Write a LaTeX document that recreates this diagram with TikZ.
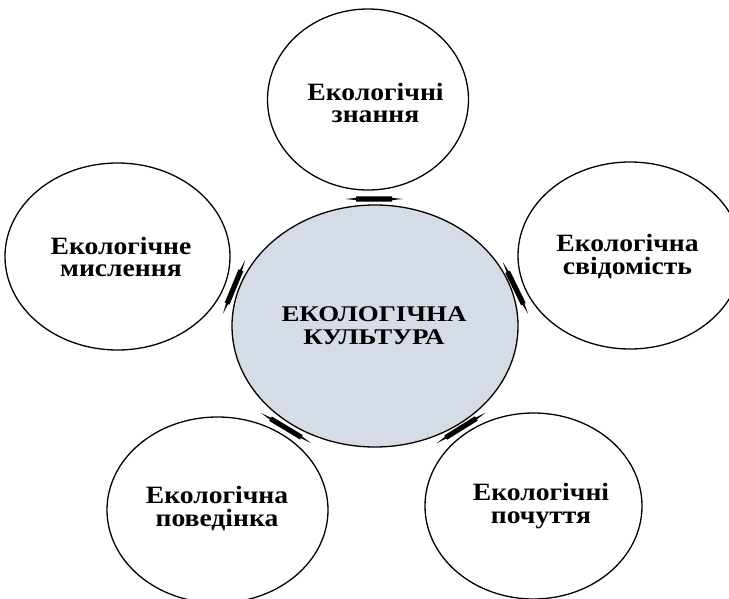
\documentclass[tikz,border=0pt]{standalone}
\usepackage{fontspec}
\setmainfont{Liberation Serif}
\usetikzlibrary{shapes.geometric}
\definecolor{centerfill}{HTML}{D6DCE5}
\tikzset{
  outer/.style={ellipse, draw=black, line width=1.3bp, inner sep=0pt},
  core/.style={ellipse, draw=black, line width=1.3bp, fill=centerfill, inner sep=0pt},
  lbl/.style={font=\bfseries\fontsize{25}{23}\selectfont\addfontfeature{FakeStretch=1.11}, align=center, inner sep=0pt},
  corelbl/.style={font=\bfseries\fontsize{22.5}{23}\selectfont\addfontfeature{FakeStretch=1.2}, align=center, inner sep=0pt},
  linkbar/.pic={\fill[black] (-29,0) -- (-18,-1.1) -- (-18,-2.6) -- (18,-2.6) -- (18,-1.1) -- (29,0)
      -- (18,1.1) -- (18,2.6) -- (-18,2.6) -- (-18,1.1) -- cycle;}
}
\begin{document}
\begin{tikzpicture}[x=1bp,y=-1bp]
\useasboundingbox (0,0) rectangle (729,599);
\clip (0,0) rectangle (729,599);
% circles
\node[outer, minimum width=201bp, minimum height=181bp] (zn) at (368,99.5) {};
\node[outer, minimum width=225bp, minimum height=187bp] (ms) at (117.5,256.5) {};
\node[outer, minimum width=224bp, minimum height=187bp] (sv) at (630,255.5) {};
\node[outer, minimum width=221bp, minimum height=186bp] (pv) at (217.5,510) {};
\node[outer, minimum width=217bp, minimum height=186bp] (pc) at (533.5,506) {};
\node[core, minimum width=286bp, minimum height=242bp] (ek) at (375,326) {};
% texts
\node[lbl] (tzn) at (375.5,103) {Екологічні\\знання};
\node[lbl] (tms) at (121,257) {Екологічне\\мислення};
\node[lbl] (tsv) at (627.5,256.5) {Екологічна\\свідомість};
\node[lbl] (tpv) at (217,508.5) {Екологічна\\поведінка};
\node[lbl] (tpc) at (541,506) {Екологічні\\почуття};
\node[corelbl] (tek) at (374,325.5) {ЕКОЛОГІЧНА\\КУЛЬТУРА};
% connectors
\coordinate (k1) at (374,199);
\coordinate (k2) at (515.5,288);
\coordinate (k3) at (461,428);
\coordinate (k4) at (286,428);
\coordinate (k5) at (234,287);
\pic[rotate=0] at (k1) {linkbar};
\pic[rotate=-64] at (k2) {linkbar};
\pic[rotate=32] at (k3) {linkbar};
\pic[rotate=-31] at (k4) {linkbar};
\pic[rotate=67.5] at (k5) {linkbar};
\end{tikzpicture}
\end{document}
